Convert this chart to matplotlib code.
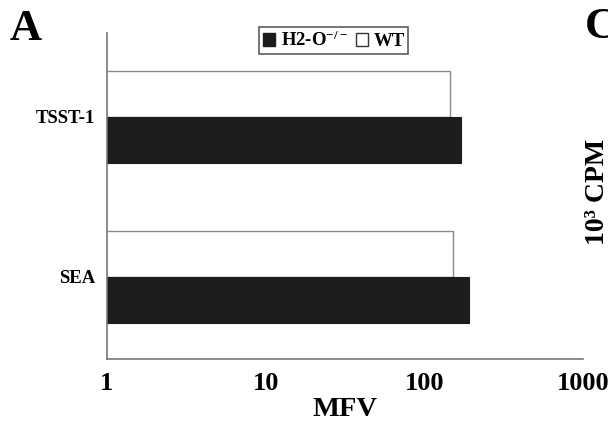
import matplotlib
matplotlib.use("Agg")
import matplotlib.pyplot as plt
from matplotlib.patches import Patch
import numpy as np

# Mean fluorescence values per superantigen
categories = ["SEA", "TSST-1"]
h2o_ko = [191, 170]   # H2-O-/- (black)
wt = [151, 145]       # WT (white)
xticks = [1, 10, 100, 1000]
xtick_labels = ["1", "10", "100", "1000"]

plt.rcParams["font.family"] = ["Liberation Serif", "DejaVu Serif"]
plt.rcParams["font.weight"] = "bold"
plt.rcParams["mathtext.fontset"] = "custom"
plt.rcParams["mathtext.rm"] = "Liberation Serif:bold"
plt.rcParams["mathtext.default"] = "rm"

fig = plt.figure(figsize=(6.08, 4.28), dpi=100)
ax = fig.add_axes([107 / 608, 1 - 359 / 428, 476 / 608, 326 / 428])

y = np.arange(len(categories))
h = 0.2875
ax.barh(y + h / 2, wt, height=h, color="white", edgecolor="#8a8a8a", linewidth=1.0)
ax.barh(y - h / 2, h2o_ko, height=h, color="#1c1c1c", edgecolor="#1c1c1c", linewidth=0.8)

ax.set_xscale("log")
ax.set_xlim(1, 1000)
ax.set_ylim(-0.5125, 1.525)
ax.set_xticks(xticks)
ax.set_xticklabels(xtick_labels)
ax.xaxis.set_minor_locator(matplotlib.ticker.NullLocator())
ax.set_yticks(y)
ax.set_yticklabels(categories)

ax.tick_params(axis="x", length=0, pad=9, labelsize=19)
ax.tick_params(axis="y", length=0, pad=8.5, labelsize=13.5)
for lbl in ax.get_xticklabels() + ax.get_yticklabels():
    lbl.set_fontweight("bold")

ax.set_xlabel("MFV", fontsize=20.5, fontweight="bold", labelpad=2)

for side in ("top", "right"):
    ax.spines[side].set_visible(False)
for side in ("left", "bottom"):
    ax.spines[side].set_color("#777777")
    ax.spines[side].set_linewidth(1.2)

handles = [Patch(facecolor="#1c1c1c", edgecolor="#1c1c1c"),
           Patch(facecolor="white", edgecolor="#333333")]
leg = fig.legend(handles, ["H2-O$^{-/-}$", "WT"], ncol=2,
                 loc="upper left", bbox_to_anchor=(259 / 608, 1 - 27 / 428),
                 frameon=True, fancybox=False, fontsize=13.5,
                 handlelength=0.65, handleheight=0.65, handletextpad=0.3,
                 columnspacing=0.4, borderpad=0.2, borderaxespad=0)
leg.get_frame().set_edgecolor("#333333")
leg.get_frame().set_linewidth(1.2)
for t in leg.get_texts():
    t.set_fontweight("bold")

# Panel letters and the neighbouring panel's axis title
fig.text(10 / 608, 1 - 9 / 428, "A", fontsize=32, fontweight="bold", va="top", ha="left")
fig.text(585 / 608, 1 - 7 / 428, "C", fontsize=32, fontweight="bold", va="top", ha="left")
fig.text(597 / 608, 1 - 192 / 428, "10³ CPM", fontsize=20, fontweight="bold",
         rotation=90, va="center", ha="center")

fig.savefig("out.png", dpi=100, facecolor="white")
